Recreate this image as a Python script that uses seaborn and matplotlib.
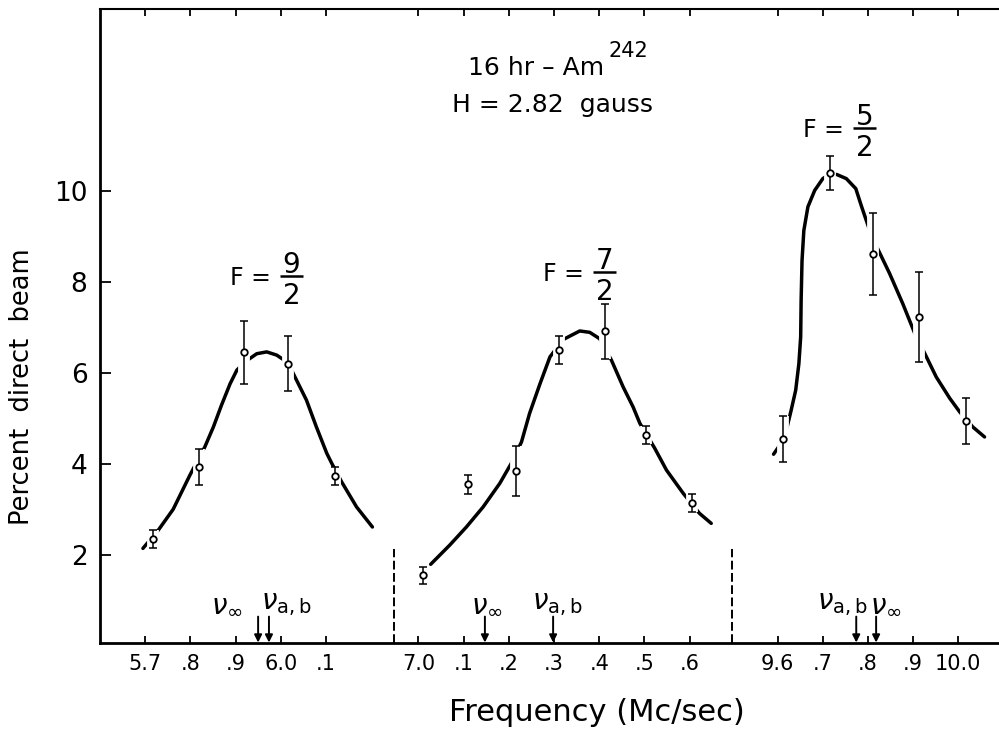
import numpy as np
import matplotlib
matplotlib.use("Agg")
import matplotlib.pyplot as plt
import matplotlib.patheffects as pe
import seaborn as sns

# ---- measured resonance points (frequency in Mc/sec, percent of direct beam) ----
f92_freq = [5.717, 5.819, 5.919, 6.017, 6.121]
f92_pct = [2.34, 3.93, 6.45, 6.20, 3.73]
f92_err = [0.20, 0.39, 0.70, 0.60, 0.20]

f72_freq = [7.009, 7.110, 7.215, 7.310, 7.413, 7.504, 7.606]
f72_pct = [1.55, 3.55, 3.84, 6.50, 6.91, 4.63, 3.14]
f72_err = [0.19, 0.21, 0.54, 0.31, 0.60, 0.20, 0.20]

f52_freq = [9.612, 9.717, 9.810, 9.913, 10.017]
f52_pct = [4.55, 10.39, 8.62, 7.23, 4.94]
f52_err = [0.50, 0.37, 0.90, 0.99, 0.50]

# ---- drawn resonance curves ----
f92_curve_freq = [5.695, 5.729, 5.762, 5.799, 5.832, 5.851, 5.869, 5.888, 5.903,
                  5.921, 5.947, 5.969, 5.991, 6.006, 6.026, 6.057, 6.079, 6.102,
                  6.113, 6.135, 6.168, 6.203]
f92_curve_pct = [2.14, 2.54, 3.00, 3.75, 4.37, 4.81, 5.29, 5.76, 6.06,
                 6.24, 6.42, 6.46, 6.39, 6.29, 6.02, 5.40, 4.81, 4.23,
                 4.01, 3.60, 3.05, 2.61]

f72_curve_freq = [7.027, 7.069, 7.106, 7.143, 7.180, 7.206, 7.228, 7.246, 7.269,
                  7.291, 7.320, 7.357, 7.379, 7.401, 7.427, 7.453, 7.475, 7.490,
                  7.523, 7.549, 7.586, 7.622, 7.648]
f72_curve_pct = [1.79, 2.21, 2.61, 3.05, 3.57, 4.02, 4.48, 5.11, 5.76,
                 6.35, 6.73, 6.92, 6.89, 6.75, 6.28, 5.69, 5.25, 4.89,
                 4.34, 3.86, 3.35, 2.91, 2.69]

f52_curve_freq = [9.591, 9.602, 9.621, 9.630, 9.640, 9.647, 9.651, 9.652, 9.654,
                  9.658, 9.667, 9.682, 9.700, 9.714, 9.731, 9.752, 9.773, 9.785,
                  9.800, 9.818, 9.848, 9.877, 9.903, 9.922, 9.951, 9.981, 10.003,
                  10.032, 10.058]
f52_curve_pct = [4.21, 4.37, 4.81, 5.18, 5.62, 6.20, 6.79, 7.60, 8.47,
                 9.13, 9.65, 10.01, 10.27, 10.36, 10.36, 10.27, 10.05, 9.68,
                 9.24, 8.80, 8.18, 7.52, 6.88, 6.50, 5.91, 5.44, 5.14,
                 4.81, 4.59]

# predicted line positions
nu_inf_freq = [5.950, 7.147, 9.818]
nu_ab_freq = [5.974, 7.298, 9.774]

# frequency windows joined side by side on one broken axis
window_lo = [5.60, 6.945, 9.50]
window_hi = [6.25, 7.695, 10.09]

tick_freq = [5.7, 5.8, 5.9, 6.0, 6.1,
             7.0, 7.1, 7.2, 7.3, 7.4, 7.5, 7.6,
             9.6, 9.7, 9.8, 9.9, 10.0]
tick_text = ["5.7", ".8", ".9", "6.0", ".1",
             "7.0", ".1", ".2", ".3", ".4", ".5", ".6",
             "9.6", ".7", ".8", ".9", "10.0"]
ytick_vals = [2, 4, 6, 8, 10]

# ---- broken frequency scale ----
_fk, _uk, _u = [], [], 0.0
for lo, hi in zip(window_lo, window_hi):
    _fk += [lo, hi]
    _uk += [_u, _u + hi - lo]
    _u += hi - lo
_fk, _uk = np.array(_fk), np.array(_uk)


def fwd(f):
    return np.interp(np.asarray(f, dtype=float), _fk, _uk)


def inv(u):
    return np.interp(np.asarray(u, dtype=float), _uk, _fk)


sns.set_theme(style="ticks")
plt.rcParams["font.family"] = ["DejaVu Sans"]
plt.rcParams["mathtext.fontset"] = "dejavusans"
plt.rcParams["text.color"] = "black"
plt.rcParams["axes.labelcolor"] = "black"
plt.rcParams["xtick.color"] = "black"
plt.rcParams["ytick.color"] = "black"

fig = plt.figure(figsize=(9.99, 7.34), dpi=100)
ax = fig.add_axes([0.1001, 0.1240, 0.8999, 0.8638])
ax.set_xscale("function", functions=(fwd, inv))
ax.set_xlim(window_lo[0], window_hi[-1])
ax.set_ylim(0.06, 14.0)

black = "black"
halo = [pe.withStroke(linewidth=8.5, foreground="white")]

groups = [
    (f92_freq, f92_pct, f92_err, f92_curve_freq, f92_curve_pct),
    (f72_freq, f72_pct, f72_err, f72_curve_freq, f72_curve_pct),
    (f52_freq, f52_pct, f52_err, f52_curve_freq, f52_curve_pct),
]
for fx, py, pe_, cx, cy in groups:
    sns.lineplot(x=cx, y=cy, sort=False, estimator=None, color=black,
                 linewidth=2.5, solid_capstyle="round", solid_joinstyle="round",
                 ax=ax, zorder=2)
    eb = ax.errorbar(fx, py, yerr=pe_, fmt="none", ecolor=black,
                     elinewidth=1.1, capsize=2.6, capthick=1.1, zorder=3)
    for coll in eb[2]:
        coll.set_path_effects(halo)
    sns.scatterplot(x=fx, y=py, marker="o", s=22, facecolor="white",
                    edgecolor=black, linewidth=1.3, ax=ax, zorder=4)

# dashed separators between the frequency windows
for b in window_hi[:-1]:
    ax.plot([b, b], [0.06, 2.12], color=black, lw=1.4,
            ls=(0, (4.5, 1.8)), zorder=2)

# arrows marking predicted line frequencies
for f in nu_inf_freq + nu_ab_freq:
    ax.annotate("", xy=(f, 0.07), xytext=(f, 0.64),
                arrowprops=dict(arrowstyle="-|>", color=black, lw=1.4,
                                mutation_scale=11, shrinkA=0, shrinkB=0))

nu_inf_txt = r"$\nu_{\infty}$"
nu_ab_txt = r"$\nu_{\mathrm{a,b}}$"
for fc, txt in [(5.880, nu_inf_txt), (6.013, nu_ab_txt),
                (7.152, nu_inf_txt), (7.307, nu_ab_txt),
                (9.743, nu_ab_txt), (9.839, nu_inf_txt)]:
    ax.text(fc, 0.60, txt, ha="center", va="bottom", fontsize=20, color=black)


# F = n/2 labels
def fraction_label(fc, yc, num, den):
    ax.plot([fc - 0.026, fc + 0.026], [yc, yc], color=black, lw=1.8,
            solid_capstyle="butt")
    ax.annotate(num, xy=(fc, yc), xytext=(0, 2.5), textcoords="offset points",
                ha="center", va="baseline", fontsize=20, color=black)
    ax.annotate(den, xy=(fc, yc), xytext=(0, -4), textcoords="offset points",
                ha="center", va="top", fontsize=20, color=black)
    ax.annotate("F =", xy=(fc, yc), xytext=(-15, -6.5), textcoords="offset points",
                ha="right", va="baseline", fontsize=17, color=black)


fraction_label(6.024, 8.12, "9", "2")
fraction_label(7.412, 8.21, "7", "2")
fraction_label(9.792, 11.38, "5", "2")

# title block
fig.text(604 / 999, 1 - 75 / 734, "16 hr \u2013 Am", ha="right", va="baseline",
         fontsize=18, color=black)
fig.text(609 / 999, 1 - 57 / 734, "242", ha="left", va="baseline", fontsize=15,
         color=black)
fig.text(552 / 999, 1 - 112 / 734, "H = 2.82  gauss", ha="center", va="baseline",
         fontsize=18, color=black)

# axes decoration
ax.set_xticks(tick_freq)
ax.set_xticklabels(tick_text)
ax.set_yticks(ytick_vals)
ax.set_yticklabels([str(v) for v in ytick_vals])
ax.minorticks_off()
ax.tick_params(axis="x", which="major", direction="in", top=True, bottom=True,
               length=5, width=1.3, pad=8, labelsize=15, colors=black)
ax.tick_params(axis="y", which="major", direction="in", left=True, right=False,
               length=8, width=1.3, pad=9, labelsize=19, colors=black)
ax.spines["right"].set_visible(False)
for side in ("left", "bottom"):
    ax.spines[side].set_linewidth(2.0)
    ax.spines[side].set_color(black)
ax.spines["top"].set_linewidth(1.5)
ax.spines["top"].set_color(black)
ax.set_xlabel("")
ax.set_ylabel("")

fig.text(0.022, 1 - 387 / 734, "Percent  direct  beam", rotation=90,
         ha="center", va="center", fontsize=18.5, color=black)
fig.text(597 / 999, 1 - 721 / 734, "Frequency (Mc/sec)", ha="center",
         va="baseline", fontsize=22, color=black)

fig.savefig("out.png", dpi=100, facecolor="white")
